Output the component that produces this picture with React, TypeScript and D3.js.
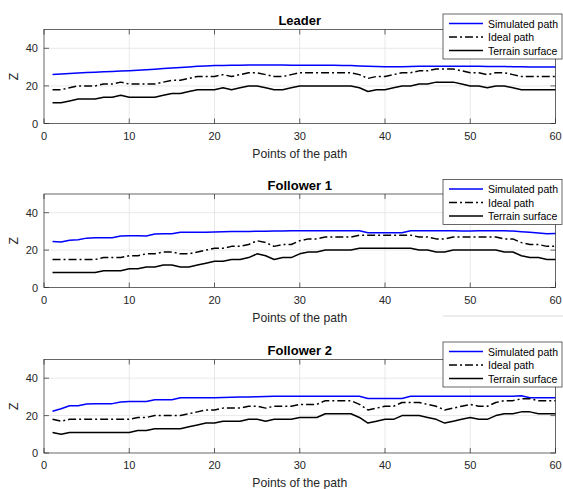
import React from "react";
import * as d3 from "d3";

const points = d3.range(1, 61);
const xTicks = [0, 10, 20, 30, 40, 50, 60];
const yTicks = [0, 20, 40];
const titles = ["Leader", "Follower 1", "Follower 2"];
const legendLabels = ["Simulated path", "Ideal path", "Terrain surface"];

const leaderSim = [26.0, 26.3, 26.6, 26.9, 27.1, 27.3, 27.5, 27.7, 27.9, 28.1, 28.3, 28.6, 28.9, 29.2, 29.5, 29.8, 30.1, 30.4, 30.6, 30.8, 30.9, 31.0, 31.0, 31.1, 31.1, 31.1, 31.1, 31.1, 31.0, 31.0, 31.0, 31.0, 31.0, 31.0, 30.9, 30.8, 30.6, 30.4, 30.3, 30.2, 30.2, 30.2, 30.3, 30.4, 30.5, 30.5, 30.5, 30.5, 30.5, 30.4, 30.4, 30.3, 30.3, 30.3, 30.2, 30.2, 30.1, 30.1, 30.0, 30.0];
const leaderIdeal = [18, 18, 19, 20, 20, 20, 21, 21, 22, 21, 21, 21, 21, 22, 23, 23, 24, 25, 25, 25, 26, 25, 26, 27, 27, 26, 25, 25, 26, 27, 27, 27, 27, 27, 27, 27, 26, 24, 25, 25, 26, 27, 27, 28, 28, 29, 29, 29, 28, 27, 27, 26, 27, 27, 26, 25, 25, 25, 25, 25];
const leaderTerrain = [11, 11, 12, 13, 13, 13, 14, 14, 15, 14, 14, 14, 14, 15, 16, 16, 17, 18, 18, 18, 19, 18, 19, 20, 20, 19, 18, 18, 19, 20, 20, 20, 20, 20, 20, 20, 19, 17, 18, 18, 19, 20, 20, 21, 21, 22, 22, 22, 21, 20, 20, 19, 20, 20, 19, 18, 18, 18, 18, 18];

const f1Sim = [24.6, 24.3, 25.3, 25.5, 26.4, 26.6, 26.6, 26.6, 27.5, 27.7, 27.7, 27.5, 28.6, 28.7, 28.7, 29.6, 29.6, 29.6, 29.6, 29.7, 29.8, 29.9, 30.0, 30.0, 30.1, 30.1, 30.2, 30.2, 30.3, 30.4, 30.4, 30.4, 30.4, 30.4, 30.4, 30.4, 30.4, 29.3, 29.3, 29.3, 29.3, 29.3, 30.4, 30.4, 30.4, 30.4, 30.4, 30.3, 30.2, 30.2, 30.3, 30.4, 30.4, 30.3, 30.2, 29.8, 29.5, 29.1, 28.7, 28.9];
const f1Ideal = [15, 15, 15, 15, 15, 15, 16, 16, 16, 17, 17, 18, 18, 19, 19, 18, 18, 19, 20, 21, 21, 22, 22, 23, 25, 24, 22, 23, 23, 25, 26, 26, 27, 27, 27, 27, 28, 28, 28, 28, 28, 28, 28, 27, 27, 26, 26, 27, 27, 27, 27, 27, 27, 26, 26, 24, 23, 23, 22, 22];
const f1Terrain = [8, 8, 8, 8, 8, 8, 9, 9, 9, 10, 10, 11, 11, 12, 12, 11, 11, 12, 13, 14, 14, 15, 15, 16, 18, 17, 15, 16, 16, 18, 19, 19, 20, 20, 20, 20, 21, 21, 21, 21, 21, 21, 21, 20, 20, 19, 19, 20, 20, 20, 20, 20, 20, 19, 19, 17, 16, 16, 15, 15];

const f2Sim = [22.3, 23.7, 25.3, 25.3, 26.2, 26.4, 26.4, 26.4, 27.3, 27.5, 27.5, 27.5, 28.5, 28.5, 28.5, 29.5, 29.5, 29.5, 29.5, 29.6, 29.7, 29.8, 29.9, 30.0, 30.1, 30.2, 30.4, 30.4, 30.3, 30.3, 30.3, 30.3, 30.3, 30.3, 30.3, 30.3, 30.3, 29.2, 29.2, 29.2, 29.2, 29.2, 30.3, 30.3, 30.3, 30.3, 30.3, 30.3, 30.3, 30.3, 30.3, 30.3, 30.3, 30.3, 30.3, 30.6, 29.6, 29.6, 29.6, 29.6];
const f2Ideal = [18, 17, 18, 18, 18, 18, 18, 18, 18, 18, 19, 19, 20, 20, 20, 20, 21, 22, 23, 23, 24, 24, 24, 25, 25, 24, 25, 25, 25, 26, 26, 26, 28, 28, 28, 28, 26, 23, 24, 25, 25, 27, 27, 27, 26, 25, 23, 24, 25, 26, 25, 25, 27, 28, 28, 29, 29, 28, 28, 28];
const f2Terrain = [11, 10, 11, 11, 11, 11, 11, 11, 11, 11, 12, 12, 13, 13, 13, 13, 14, 15, 16, 16, 17, 17, 17, 18, 18, 17, 18, 18, 18, 19, 19, 19, 21, 21, 21, 21, 19, 16, 17, 18, 18, 20, 20, 20, 19, 18, 16, 17, 18, 19, 18, 18, 20, 21, 21, 22, 22, 21, 21, 21];

const panelSims = [leaderSim, f1Sim, f2Sim];
const panelIdeals = [leaderIdeal, f1Ideal, f2Ideal];
const panelTerrains = [leaderTerrain, f1Terrain, f2Terrain];

const W = 563;
const H = 489;
const left = 44;
const right = 555.5;
const tops = [29.5, 194, 359.5];
const bottoms = [123.5, 287.5, 453];
const legendTops = [14, 179.5, 342];
const titleY = [25, 190, 355];

const AX = "#262626";
const GRID = "#e3e3e3";
const FONT = "'Liberation Sans', Arial, Helvetica, sans-serif";

function Panel({ i }: { i: number }) {
  const x = d3.scaleLinear().domain([0, 60]).range([left, right]);
  const y = d3.scaleLinear().domain([0, 50]).range([bottoms[i], tops[i]]);
  const line = d3
    .line<number>()
    .x((_, k) => x(points[k]))
    .y((d) => y(d));
  const t = tops[i];
  const b = bottoms[i];
  const tl = 5;
  const lt = legendTops[i];
  const lx = 443;
  const lw = 119;
  const lh = 45;
  const rows = [lt + 9.5, lt + 23, lt + 36.5];
  const styles = [
    { stroke: "#0000ff", dash: undefined as string | undefined },
    { stroke: "#000", dash: "8,3,2,3" },
    { stroke: "#000", dash: undefined as string | undefined },
  ];
  const series = [panelSims[i], panelIdeals[i], panelTerrains[i]];
  return (
    <g>
      {xTicks.slice(1, -1).map((v) => (
        <line key={"gx" + v} x1={x(v)} x2={x(v)} y1={t} y2={b} stroke={GRID} strokeWidth={0.8} />
      ))}
      {yTicks.slice(1).map((v) => (
        <line key={"gy" + v} x1={left} x2={right} y1={y(v)} y2={y(v)} stroke={GRID} strokeWidth={0.8} />
      ))}
      {series.map((s, k) => (
        <path
          key={"s" + k}
          d={line(s) || ""}
          fill="none"
          stroke={styles[k].stroke}
          strokeWidth={1.5}
          strokeDasharray={styles[k].dash}
          strokeLinejoin="round"
        />
      ))}
      <rect x={left} y={t} width={right - left} height={b - t} fill="none" stroke={AX} strokeWidth={0.7} />
      {xTicks.map((v) => (
        <g key={"tx" + v}>
          <line x1={x(v)} x2={x(v)} y1={b} y2={b - tl} stroke={AX} strokeWidth={0.7} />
          <line x1={x(v)} x2={x(v)} y1={t} y2={t + tl} stroke={AX} strokeWidth={0.7} />
          <text x={x(v)} y={b + 16} textAnchor="middle" fontSize={11} fill={AX} fontFamily={FONT}>
            {v}
          </text>
        </g>
      ))}
      {yTicks.map((v) => (
        <g key={"ty" + v}>
          <line x1={left} x2={left + tl} y1={y(v)} y2={y(v)} stroke={AX} strokeWidth={0.7} />
          <line x1={right} x2={right - tl} y1={y(v)} y2={y(v)} stroke={AX} strokeWidth={0.7} />
          <text x={left - 6} y={y(v) + 4} textAnchor="end" fontSize={11} fill={AX} fontFamily={FONT}>
            {v}
          </text>
        </g>
      ))}
      <text
        transform={`translate(18,${(t + b) / 2}) rotate(-90)`}
        textAnchor="middle"
        fontSize={12}
        fill={AX}
        fontFamily={FONT}
      >
        Z
      </text>
      <text x={(left + right) / 2} y={b + 34} textAnchor="middle" fontSize={12.2} fill={AX} fontFamily={FONT}>
        Points of the path
      </text>
      <text
        x={(left + right) / 2}
        y={titleY[i]}
        textAnchor="middle"
        fontSize={13}
        fontWeight="bold"
        fill="#000"
        fontFamily={FONT}
      >
        {titles[i]}
      </text>
      <rect x={lx} y={lt} width={lw} height={lh} fill="#fff" stroke={AX} strokeWidth={0.7} />
      {legendLabels.map((lab, k) => (
        <g key={"lg" + k}>
          <line
            x1={lx + 6}
            x2={lx + 40}
            y1={rows[k]}
            y2={rows[k]}
            stroke={styles[k].stroke}
            strokeWidth={1.5}
            strokeDasharray={styles[k].dash}
          />
          <text x={lx + 45} y={rows[k] + 4} fontSize={10.5} fill="#000" fontFamily={FONT}>
            {lab}
          </text>
        </g>
      ))}
    </g>
  );
}

export default function App() {
  return (
    <svg
      width={W}
      height={H}
      viewBox={`0 0 ${W} ${H}`}
      style={{ position: "absolute", left: 0, top: 0, background: "#fff" }}
    >
      <rect x={0} y={0} width={W} height={H} fill="#fff" />
      {[0, 1, 2].map((i) => (
        <Panel key={i} i={i} />
      ))}
      <line x1={443} x2={563} y1={316} y2={316} stroke="#cfcfcf" strokeWidth={0.8} />
    </svg>
  );
}
